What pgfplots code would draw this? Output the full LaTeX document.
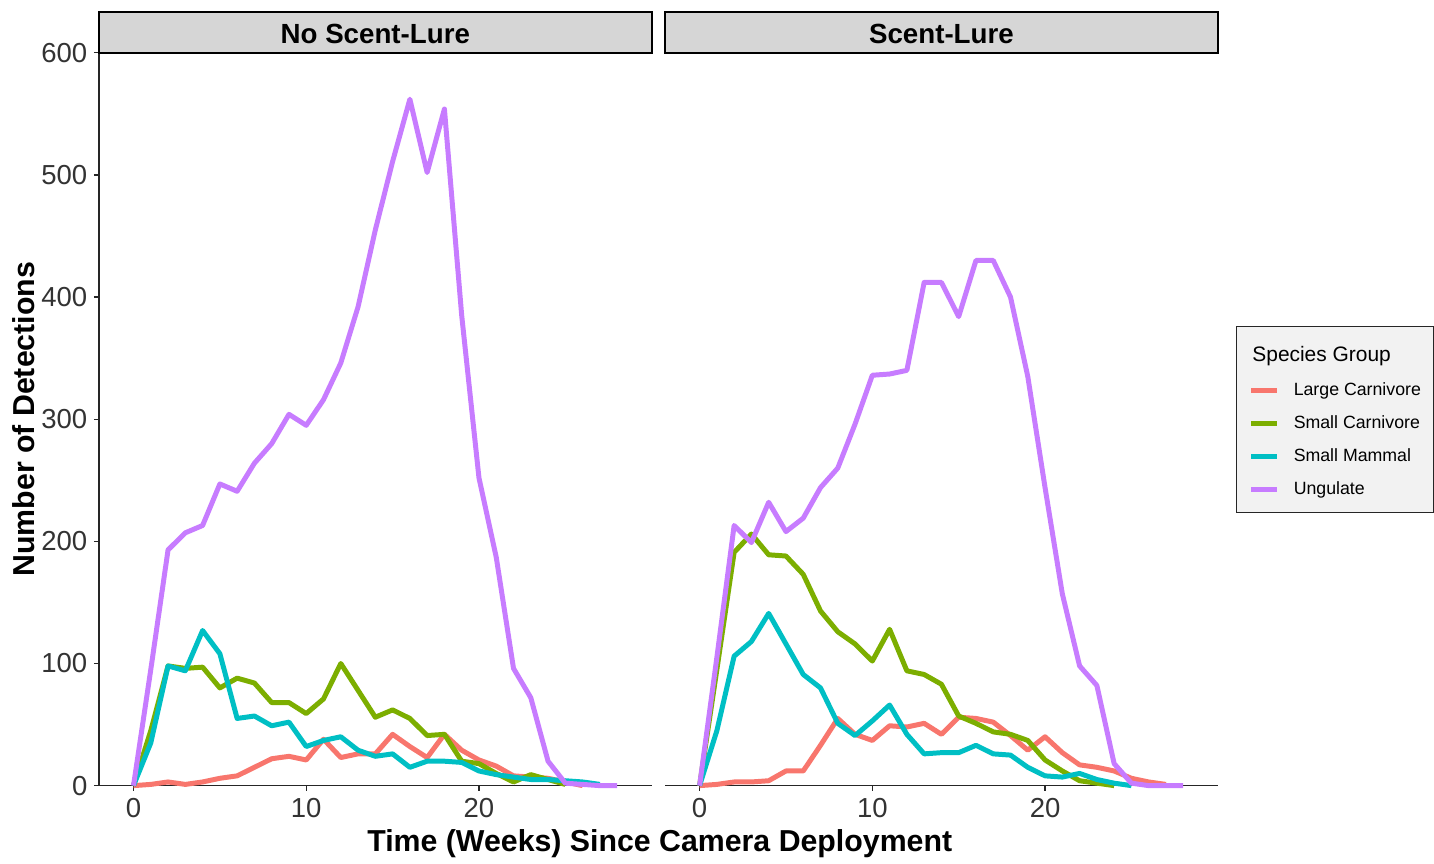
\documentclass[border=0pt]{standalone}
\usepackage{pgfplots}
\pgfplotsset{compat=1.18}
\usepackage{pgfplotstable}
\usepackage{fontspec}
\setmainfont{Liberation Sans}

\definecolor{lc}{HTML}{F8766D}
\definecolor{sc}{HTML}{7CAE00}
\definecolor{sm}{HTML}{00BFC4}
\definecolor{ug}{HTML}{C77CFF}
\definecolor{stripgray}{RGB}{214,214,214}
\definecolor{legfill}{RGB}{242,242,242}

\pgfplotstableread{
week lc sc sm ug
0 0 0 0 0
1 1 45 35 95
2 3 98 98 193
3 1 96 94 207
4 3 97 127 213
5 6 80 108 247
6 8 88 55 241
7 15 84 57 264
8 22 68 49 280
9 24 68 52 304
10 21 59 32 295
11 38 71 37 316
12 23 100 40 346
13 26 78 29 392
14 26 56 24 455
15 42 62 26 511
16 32 55 15 562
17 23 41 20 502
18 42 42 20 554
19 29 20 19 385
20 21 18 12 252
21 16 10 9 187
22 8 3 7 96
23 7 9 5 72
24 6 5 5 20
25 3 1 4 2
26 0 nan 3 1
27 nan nan 1 0
28 nan nan nan 0
}\noscent

\pgfplotstableread{
week lc sc sm ug
0 0 0 0 0
1 1 95 45 105
2 3 191 106 213
3 3 206 118 199
4 4 189 141 232
5 12 188 116 208
6 12 173 91 219
7 33 143 80 244
8 55 126 51 260
9 42 116 41 296
10 37 102 53 336
11 49 128 66 337
12 48 94 42 340
13 51 91 26 412
14 42 83 27 412
15 56 57 27 384
16 55 51 33 430
17 52 44 26 430
18 41 42 25 400
19 29 37 15 335
20 40 21 8 244
21 27 12 7 157
22 17 4 10 98
23 15 2 5 82
24 12 0 2 18
25 6 nan 0 2
26 3 nan nan 0
27 1 nan nan 0
28 nan nan nan 0
}\scent

\pgfplotsset{
  panel/.style={
    scale only axis, width=277.3bp, height=367.65bp,
    xmin=-2, xmax=30, ymin=0, ymax=600,
    xtick={0,10,20},
    axis x line*=bottom,
    axis line style={black!85, line width=0.6bp},
    tick style={black!85, line width=0.6bp},
    major tick length=2.5bp,
    tick align=outside,
    clip=false,
    /pgf/number format/assume math mode=true,
    tick label style={font=\fontsize{13.8bp}{16bp}\selectfont, text=black!80},
    xticklabel style={anchor=north, inner sep=0pt, yshift=-3.6bp},
    unbounded coords=jump,
  },
}
\tikzset{
  dline/.style={line width=2.5bp, line join=round},
  strip/.style={draw=black, line width=1bp, fill=stripgray},
  striptext/.style={anchor=base, font=\fontsize{13.9bp}{16bp}\selectfont\bfseries},
}

\begin{document}
\begin{tikzpicture}
\begin{axis}[panel,
  axis y line*=left,
  ytick={0,100,...,600},
  yticklabel style={anchor=east, inner sep=0pt, xshift=-3.15bp},
]
\addplot[dline, color=lc, mark=none] table[x=week, y=lc]{\noscent};
\addplot[dline, color=sc, mark=none] table[x=week, y=sc]{\noscent};
\addplot[dline, color=sm, mark=none] table[x=week, y=sm]{\noscent};
\addplot[dline, color=ug, mark=none] table[x=week, y=ug]{\noscent};
\draw[strip] (rel axis cs:0,1) rectangle ([yshift=20.5bp]rel axis cs:1,1);
\node[striptext] at ([yshift=4.52bp]rel axis cs:0.5,1) {No Scent-Lure};
\node[rotate=90, anchor=center, font=\fontsize{15.2bp}{18bp}\selectfont\bfseries]
  at ([xshift=-37.65bp]rel axis cs:0,0.5) {Number of Detections};
\node[anchor=base, font=\fontsize{15.2bp}{18bp}\selectfont\bfseries]
  at ([xshift=281.35bp, yshift=-32.8bp]rel axis cs:0,0) {Time (Weeks) Since Camera Deployment};
\end{axis}

\begin{axis}[panel, at={(284bp,0)},
  axis y line=none, ytick=\empty,
  legend style={at={(1.0327,0.6274)}, anchor=north west,
    draw=black!85, line width=0.6bp, fill=legfill,
    inner xsep=6.25bp, inner ysep=7.25bp, row sep=7.5bp, column sep=7bp,
    font=\fontsize{8.9bp}{10bp}\selectfont,
    nodes={inner sep=0pt, text height=, text depth=}},
  legend cell align=left,
  legend image code/.code={\draw[#1, line width=2.5bp] (0bp,0bp) -- (13bp,0bp);},
]
\addlegendimage{empty legend}
\addlegendentry{\hspace*{-20.75bp}\fontsize{10.5bp}{12bp}\selectfont\rule[-2.75bp]{0pt}{13bp}Species Group}
\addplot[dline, color=lc, mark=none] table[x=week, y=lc]{\scent};
\addlegendentry{\rule[-2bp]{0pt}{9bp}Large Carnivore}
\addplot[dline, color=sc, mark=none] table[x=week, y=sc]{\scent};
\addlegendentry{\rule[-2bp]{0pt}{9bp}Small Carnivore}
\addplot[dline, color=sm, mark=none] table[x=week, y=sm]{\scent};
\addlegendentry{\rule[-2bp]{0pt}{9bp}Small Mammal}
\addplot[dline, color=ug, mark=none] table[x=week, y=ug]{\scent};
\addlegendentry{\rule[-2bp]{0pt}{9bp}Ungulate}
\draw[strip] (rel axis cs:0,1) rectangle ([yshift=20.5bp]rel axis cs:1,1);
\node[striptext] at ([yshift=4.52bp]rel axis cs:0.5,1) {Scent-Lure};
\end{axis}

\path (-49.65bp,-34.85bp) rectangle (667.35bp,394.15bp);
\end{tikzpicture}
\end{document}
